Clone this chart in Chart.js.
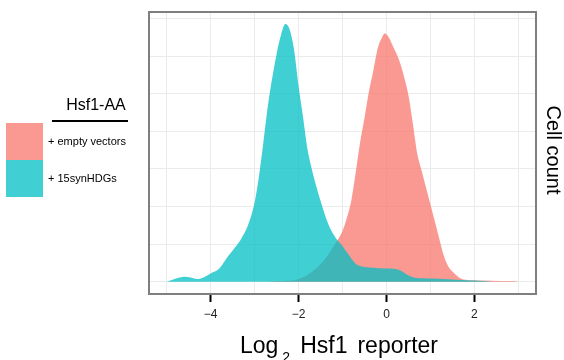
<!DOCTYPE html>
<html>
<head>
<meta charset="utf-8">
<script src="https://cdn.jsdelivr.net/npm/chart.js@4.4.1/dist/chart.umd.min.js"></script>
<style>
  html, body { margin: 0; padding: 0; background: #fff; }
</style>
</head>
<body>
<canvas id="density" width="564" height="360"></canvas>
<script>
// Density of the Hsf1 reporter (arbitrary "cell count" units)
const emptyX = [-2.7, -2.4, -2.1, -1.95, -1.8, -1.6, -1.4, -1.2, -1.0, -0.9, -0.8, -0.7, -0.6, -0.5,
  -0.4, -0.3, -0.2, -0.1, -0.04, 0.05, 0.15, 0.3, 0.4, 0.5, 0.6, 0.7, 0.8, 0.9, 1.0, 1.1, 1.2,
  1.3, 1.4, 1.5, 1.6, 1.7, 1.8, 2.2, 2.6, 2.95, 3.0];
const emptyCount = [0, 0.02, 0.04, 0.09, 0.18, 0.35, 0.6, 0.95, 1.35, 1.7, 2.15, 2.9, 3.7, 4.35,
  5.05, 5.6, 6.2, 6.5, 6.6, 6.5, 6.25, 5.85, 5.45, 4.95, 4.2, 3.4, 2.95, 2.5, 2.05, 1.6, 1.15,
  0.7, 0.42, 0.27, 0.16, 0.08, 0.05, 0.03, 0.02, 0.01, 0];

const hdgX = [-5.0, -4.8, -4.6, -4.45, -4.3, -4.15, -4.0, -3.8, -3.6, -3.45, -3.3, -3.15, -3.0,
  -2.9, -2.8, -2.7, -2.6, -2.5, -2.4, -2.3, -2.2, -2.1, -2.0, -1.9, -1.8, -1.7, -1.6, -1.5, -1.4,
  -1.3, -1.2, -1.1, -1.0, -0.9, -0.8, -0.7, -0.6, -0.5, -0.3, 0.0, 0.2, 0.35, 0.45, 0.6, 0.8,
  1.2, 1.6, 2.0, 2.2, 2.4];
const hdgCount = [0, 0.08, 0.13, 0.11, 0.07, 0.12, 0.22, 0.35, 0.68, 0.9, 1.15, 1.5, 2.1,
  2.8, 3.7, 4.65, 5.4, 6.05, 6.55, 6.85, 6.7, 6.15, 5.2, 4.4, 3.55, 3.0, 2.55, 2.15, 1.78,
  1.47, 1.25, 1.08, 0.95, 0.78, 0.62, 0.48, 0.42, 0.39, 0.37, 0.35, 0.34, 0.28, 0.2, 0.12, 0.09,
  0.08, 0.05, 0.03, 0.02, 0];

const xTicks = [-5, -4, -3, -2, -1, 0, 1, 2, 3];
const xLabels = [-4, -2, 0, 2];
const yGrid = [0, 1, 2, 3, 4, 5, 6, 7];

const seriesNames = ['+ empty vectors', '+ 15synHDGs'];
const seriesColors = ['rgba(248, 118, 109, 0.75)', 'rgba(0, 191, 196, 0.75)'];
const legendTitle = 'Hsf1-AA';

const FONT = '"Liberation Sans", Arial, Helvetica, sans-serif';

const toPoints = (xs, ys) => xs.map((x, i) => ({ x, y: ys[i] }));

/** Panel border, axis titles and the hand-placed legend on the left. */
const decorations = {
  id: 'decorations',
  afterDraw(chart) {
    const { ctx, chartArea: a } = chart;
    ctx.save();

    ctx.strokeStyle = '#7f7f7f';
    ctx.lineWidth = 2;
    ctx.strokeRect(a.left, a.top, a.right - a.left, a.bottom - a.top);

    // x title: Log[2] ~ Hsf1 ~ reporter (plotmath-style spacing)
    ctx.fillStyle = '#000';
    ctx.textBaseline = 'alphabetic';
    ctx.textAlign = 'left';
    const big = `23px ${FONT}`;
    let x = 240;
    ctx.font = big;
    ctx.fillText('Log', x, 353);
    x += ctx.measureText('Log').width + 4;
    ctx.font = `14px ${FONT}`;
    ctx.fillText('2', x, 362);
    x += ctx.measureText('2').width + 10;
    ctx.font = big;
    ctx.fillText('Hsf1', x, 353);
    x += ctx.measureText('Hsf1').width + 10;
    ctx.fillText('reporter', x, 353);

    // y title on the right, reading downwards
    ctx.save();
    ctx.translate(553, 150);
    ctx.rotate(Math.PI / 2);
    ctx.textAlign = 'center';
    ctx.textBaseline = 'middle';
    ctx.font = `20px ${FONT}`;
    ctx.fillText('Cell count', 0, 0);
    ctx.restore();

    // legend
    ctx.textAlign = 'center';
    ctx.textBaseline = 'middle';
    ctx.font = `16px ${FONT}`;
    ctx.fillText(legendTitle, 96, 106);
    ctx.strokeStyle = '#000';
    ctx.lineWidth = 2;
    ctx.beginPath();
    ctx.moveTo(52, 121);
    ctx.lineTo(128, 121);
    ctx.stroke();

    ctx.textAlign = 'left';
    ctx.font = `11px ${FONT}`;
    seriesNames.forEach((name, i) => {
      const top = 123 + i * 37;
      ctx.fillStyle = '#fff';
      ctx.fillRect(6, top, 37, 37);
      ctx.fillStyle = seriesColors[i];
      ctx.fillRect(6, top, 37, 37);
      ctx.fillStyle = '#000';
      ctx.fillText(name, 48, top + 19);
    });

    ctx.restore();
  },
};

const common = {
  fill: 'origin',
  borderWidth: 0,
  pointRadius: 0,
  cubicInterpolationMode: 'monotone',
};

new Chart(document.getElementById('density'), {
  type: 'line',
  data: {
    datasets: [
      // higher order is drawn first, so the cyan curve lies over the red one
      { ...common, order: 1, label: seriesNames[0], data: toPoints(emptyX, emptyCount), backgroundColor: seriesColors[0] },
      { ...common, order: 0, label: seriesNames[1], data: toPoints(hdgX, hdgCount), backgroundColor: seriesColors[1] },
    ],
  },
  options: {
    responsive: false,
    animation: false,
    devicePixelRatio: 1,
    layout: { padding: { left: 149, top: 12, right: 28, bottom: 0 } },
    plugins: { legend: { display: false }, tooltip: { enabled: false } },
    scales: {
      x: {
        type: 'linear',
        min: -5.4,
        max: 3.4,
        afterBuildTicks: (scale) => { scale.ticks = xTicks.map((value) => ({ value })); },
        afterFit: (scale) => { scale.height = 66; },
        border: { display: false },
        grid: {
          color: '#ebebeb',
          lineWidth: 1,
          tickLength: 8,
          tickWidth: 2,
          tickColor: (c) => (xLabels.includes(c.tick && c.tick.value) ? '#000' : 'rgba(0,0,0,0)'),
        },
        ticks: {
          autoSkip: false,
          maxRotation: 0,
          padding: 5,
          color: '#222',
          font: { family: FONT, size: 12 },
          callback: (v) => (xLabels.includes(v) ? String(v).replace('-', '\u2212') : ''),
        },
      },
      y: {
        min: -0.327,
        max: 7.17,
        afterBuildTicks: (scale) => { scale.ticks = yGrid.map((value) => ({ value })); },
        afterFit: (scale) => { scale.width = 0; },
        border: { display: false },
        grid: { color: '#ebebeb', lineWidth: 1, drawTicks: false },
        ticks: { display: false },
      },
    },
  },
  plugins: [decorations],
});
</script>
</body>
</html>
